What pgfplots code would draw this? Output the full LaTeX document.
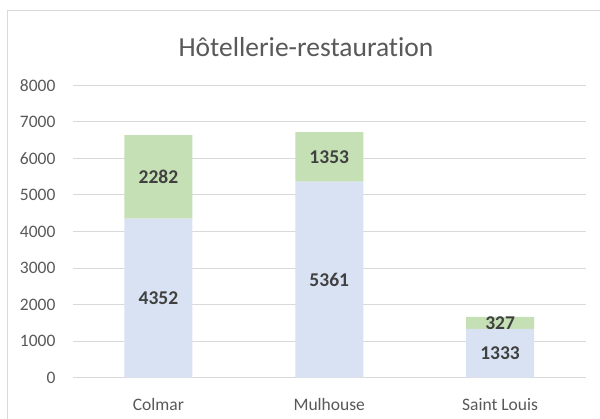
\documentclass[border=0pt]{standalone}
\usepackage{pgfplots}
\usepackage{pgfplotstable}
\pgfplotsset{compat=1.18}
\usepackage{fontspec}
\setmainfont{Carlito}[Ligatures=NoCommon]
\definecolor{cblue}{HTML}{D9E2F3}
\definecolor{cgreen}{HTML}{C5E0B4}
\definecolor{cgrid}{HTML}{D9D9D9}
\definecolor{ctick}{HTML}{595959}
\definecolor{clab}{HTML}{404040}
\pgfplotstableread{
x a b
0 4352 2282
1 5361 1353
2 1333 327
}\data
\begin{document}
\begin{tikzpicture}[x=1pt,y=1pt]
\useasboundingbox (0,0) rectangle (600,419);
\fill[white] (0,0) rectangle (600,419);
\draw[cgrid, line width=1pt] (7,-10) rectangle (620,408);
\node[font=\fontsize{27.5}{27.5}\selectfont, text=ctick] at (306,372) {Hôtellerie-restauration};
\begin{axis}[
  at={(73pt,41.3pt)}, anchor=south west,
  scale only axis, width=512.5pt, height=292.6pt,
  ybar stacked, bar width=68pt,
  xmin=-0.5, xmax=2.5, ymin=0, ymax=8000,
  ytick={0,1000,...,8000},
  xtick=data, xticklabels={Colmar,Mulhouse,Saint Louis},
  ymajorgrids, major grid style={cgrid, line width=0.8pt},
  axis line style={draw=none},
  axis x line*=bottom, axis y line*=left,
  major tick length=0pt,
  tick label style={text=ctick, font=\fontsize{17.5}{17.5}\selectfont},
  /pgf/number format/assume math mode=true,
  /pgf/number format/set thousands separator={},
  yticklabel style={xshift=-14pt},
  xticklabel style={yshift=-17pt},
  nodes near coords,
  point meta=explicit,
  every node near coord/.append style={text=clab, font=\bfseries\fontsize{19.5}{19.5}\selectfont, /pgf/number format/assume math mode=true},
  clip=false,
]
\addplot[fill=cblue, draw=none] table[x=x, y=a, meta=a] {\data};
\addplot[fill=cgreen, draw=none] table[x=x, y=b, meta=b] {\data};
\draw[cgrid, line width=0.8pt] (axis cs:-0.5,0) -- (axis cs:2.5,0);
\end{axis}
\end{tikzpicture}
\end{document}
